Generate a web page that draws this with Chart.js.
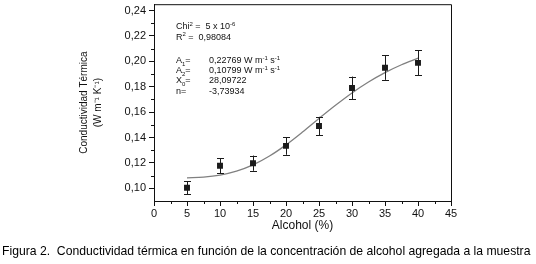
<!DOCTYPE html>
<html>
<head>
<meta charset="utf-8">
<script src="https://cdn.jsdelivr.net/npm/chart.js@4.4.1/dist/chart.umd.min.js"></script>
<style>
  html, body { margin: 0; padding: 0; background: #fff; }
  canvas { display: block; }
</style>
</head>
<body>
<canvas id="chart" width="536" height="264"></canvas>
<script>
// measured points (alcohol %, conductivity W m-1 K-1, error bar half height)
const alcohol = [5, 10, 15, 20, 25, 30, 35, 40];
const conductivity = [0.1005, 0.1177, 0.1198, 0.1334, 0.1490, 0.1790, 0.1950, 0.1988];
const errors = [0.0050, 0.0060, 0.0060, 0.0070, 0.0073, 0.0090, 0.0096, 0.0098];

// fitted curve
const fitX = [5, 7.5, 10, 12.5, 15, 17.5, 20, 22.5, 25, 27.5, 30, 32.5, 35, 37.5, 40];
const fitY = [0.1082, 0.1088, 0.1104, 0.1135, 0.1184, 0.1254, 0.1342, 0.1443,
              0.1550, 0.1654, 0.1751, 0.1837, 0.1911, 0.1973, 0.2025];

const xTicks = [0, 5, 10, 15, 20, 25, 30, 35, 40, 45];
const yTicks = [0.10, 0.12, 0.14, 0.16, 0.18, 0.20, 0.22, 0.24];

const FONT = '"Liberation Sans", Arial, sans-serif';
const INK = '#111';

function rich(ctx, x, y, parts, size) {
    for (const p of parts) {
        const t = typeof p === 'string' ? p : p[0];
        const kind = typeof p === 'string' ? '' : p[1];
        ctx.font = (kind ? Math.round(size * 0.68) : size) + 'px ' + FONT;
        const dy = kind === 'sup' ? -size * 0.38 : kind === 'sub' ? size * 0.3 : 0;
        ctx.fillText(t, x, y + dy);
        x += ctx.measureText(t).width;
    }
}

const extras = {
    id: 'extras',
    beforeDraw(chart) {
        const c = chart.ctx;
        c.save();
        c.fillStyle = '#fff';
        c.fillRect(0, 0, chart.width, chart.height);
        c.restore();
    },
    afterDatasetsDraw(chart) {
        const c = chart.ctx, xs = chart.scales.x, ys = chart.scales.y;
        c.save();
        c.strokeStyle = '#1b1b1b';
        c.lineWidth = 1;
        alcohol.forEach((a, i) => {
            const px = Math.round(xs.getPixelForValue(a)) + 0.5;
            const top = ys.getPixelForValue(conductivity[i] + errors[i]);
            const bot = ys.getPixelForValue(conductivity[i] - errors[i]);
            c.beginPath();
            c.moveTo(px, top); c.lineTo(px, bot);
            c.moveTo(px - 3.5, Math.round(top) + 0.5); c.lineTo(px + 3.5, Math.round(top) + 0.5);
            c.moveTo(px - 3.5, Math.round(bot) + 0.5); c.lineTo(px + 3.5, Math.round(bot) + 0.5);
            c.stroke();
        });
        c.restore();
    },
    afterDraw(chart) {
        const c = chart.ctx, a = chart.chartArea, xs = chart.scales.x, ys = chart.scales.y;
        c.save();
        c.strokeStyle = INK;
        c.lineWidth = 1;
        // frame: top and right edges
        c.beginPath();
        c.moveTo(a.left, a.top + 0.5); c.lineTo(a.right + 0.5, a.top + 0.5);
        c.lineTo(a.right + 0.5, a.bottom);
        c.stroke();
        // minor ticks
        c.beginPath();
        for (let i = 0; i < xTicks.length - 1; i++) {
            const px = Math.round(xs.getPixelForValue((xTicks[i] + xTicks[i + 1]) / 2)) + 0.5;
            c.moveTo(px, a.bottom); c.lineTo(px, a.bottom + 3);
        }
        for (let i = 0; i < yTicks.length - 1; i++) {
            const py = Math.round(ys.getPixelForValue((yTicks[i] + yTicks[i + 1]) / 2)) + 0.5;
            c.moveTo(a.left, py); c.lineTo(a.left - 3, py);
        }
        c.stroke();

        // fit statistics
        c.fillStyle = INK;
        c.textAlign = 'left';
        c.textBaseline = 'alphabetic';
        const lx = a.left + 22, vx = a.left + 55, t = a.top;
        rich(c, lx, t + 25, ['Chi', ['2', 'sup'], ' =  5 x 10', ['-6', 'sup']], 9);
        rich(c, lx, t + 35.5, ['R', ['2', 'sup'], ' =  0,98084'], 9);
        rich(c, lx, t + 59, ['A', ['1', 'sub'], '='], 9);
        rich(c, lx, t + 69, ['A', ['2', 'sub'], '='], 9);
        rich(c, lx, t + 79, ['X', ['0', 'sub'], '='], 9);
        rich(c, lx, t + 89.5, ['n='], 9);
        rich(c, vx, t + 59, ['0,22769 W m', ['-1', 'sup'], ' s', ['-1', 'sup']], 9);
        rich(c, vx, t + 69, ['0,10799 W m', ['-1', 'sup'], ' s', ['-1', 'sup']], 9);
        rich(c, vx, t + 79, ['28,09722'], 9);
        rich(c, vx, t + 89.5, ['-3,73934'], 9);

        // figure caption
        c.fillStyle = '#000';
        c.font = '12.2px ' + FONT;
        c.fillText('Figura 2.  Conductividad térmica en función de la concentración de alcohol agregada a la muestra', 2, 255);
        c.restore();
    }
};

new Chart(document.getElementById('chart'), {
    type: 'scatter',
    data: {
        datasets: [
            {
                type: 'line',
                data: fitX.map((x, i) => ({x: x, y: fitY[i]})),
                borderColor: '#808080',
                borderWidth: 1.3,
                pointRadius: 0,
                cubicInterpolationMode: 'monotone',
                fill: false,
                order: 2
            },
            {
                data: alcohol.map((x, i) => ({x: x, y: conductivity[i]})),
                pointStyle: 'rect',
                pointRadius: 4.2,
                backgroundColor: '#1b1b1b',
                borderColor: '#1b1b1b',
                borderWidth: 0,
                order: 1
            }
        ]
    },
    options: {
        responsive: false,
        animation: false,
        devicePixelRatio: 1,
        layout: {padding: {top: 3, right: 85, left: 0, bottom: 0}},
        plugins: {legend: {display: false}, tooltip: {enabled: false}},
        scales: {
            x: {
                type: 'linear',
                min: 0,
                max: 45,
                afterFit: s => { s.height = 63; s.paddingLeft = 0; s.paddingRight = 0; },
                afterBuildTicks: s => { s.ticks = xTicks.map(v => ({value: v})); },
                grid: {drawOnChartArea: false, tickLength: 5, tickColor: INK, color: INK},
                border: {color: INK, width: 1},
                ticks: {color: INK, font: {family: FONT, size: 11}, padding: 1, maxRotation: 0, autoSkip: false},
                title: {
                    display: true, text: 'Alcohol (%)', color: INK,
                    font: {family: FONT, size: 12, lineHeight: 1.2},
                    padding: {top: 0, bottom: 31}
                }
            },
            y: {
                min: 0.09,
                max: 0.245,
                afterFit: s => { s.width = 154; s.paddingTop = 0; s.paddingBottom = 0; },
                afterBuildTicks: s => { s.ticks = yTicks.map(v => ({value: v})); },
                grid: {drawOnChartArea: false, tickLength: 5, tickColor: INK, color: INK},
                border: {color: INK, width: 1},
                ticks: {
                    color: INK, font: {family: FONT, size: 11}, padding: 3,
                    callback: v => v.toFixed(2).replace('.', ',')
                },
                title: {
                    display: true, text: ['Conductividad Térmica', '(W m⁻¹ K⁻¹)'], color: INK,
                    font: {family: FONT, size: 10, lineHeight: 1.4},
                    padding: {top: 77, bottom: 0}
                }
            }
        }
    },
    plugins: [extras]
});
</script>
</body>
</html>
